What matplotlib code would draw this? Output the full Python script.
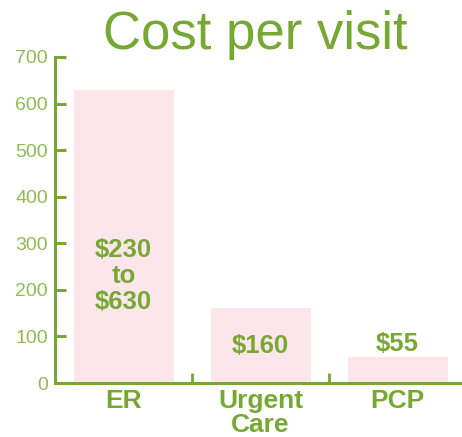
import numpy as np
import matplotlib
matplotlib.use("Agg")
import matplotlib.pyplot as plt

plt.rcParams['font.family'] = ['Liberation Sans', 'DejaVu Sans']

categories = ['ER', 'Urgent\nCare', 'PCP']
costs = [630, 160, 55]
bar_labels = ['$230\nto\n$630', '$160', '$55']
label_y = [230, 80, 84]
yticks = [0, 100, 200, 300, 400, 500, 600, 700]

green = '#76a832'
light_green = '#8fbc4f'
pink = '#fce6ec'

fig = plt.figure(figsize=(4.62, 4.37), dpi=100)
ax = fig.add_axes([55 / 462, 1 - 383 / 437, 1 - 55 / 462, (383 - 57) / 437])

x = np.arange(len(categories))
ax.bar(x, costs, width=0.73, color=pink, zorder=1)
for xi, lab, ly in zip(x, bar_labels, label_y):
    ax.text(xi, ly, lab, ha='center', va='center', fontsize=18.5, fontweight='bold',
            color=green, linespacing=1.12, zorder=3)

ax.set_xlim(-0.5, 2.47)
ax.set_ylim(0, 700)
ax.set_yticks(yticks)
ax.set_yticklabels([str(v) for v in yticks], color=light_green, fontsize=14)
ax.tick_params(axis='y', direction='in', length=8, width=2.2, color=green, pad=5)

ax.set_xticks(x)
ax.set_xticklabels(categories, color=green, fontsize=19, fontweight='bold', linespacing=1.0)
ax.tick_params(axis='x', length=0, pad=4)
# small separators between categories on the x axis
ax.set_xticks([0.5, 1.5], minor=True)
ax.tick_params(axis='x', which='minor', direction='in', length=7, width=2, color=green)

for side in ['top', 'right']:
    ax.spines[side].set_visible(False)
for side in ['left', 'bottom']:
    ax.spines[side].set_color(green)
    ax.spines[side].set_linewidth(2.2)

fig.text(0.553, 0.92, 'Cost per visit', ha='center', va='center', fontsize=38, color=green)

plt.savefig('out.png', dpi=100)
